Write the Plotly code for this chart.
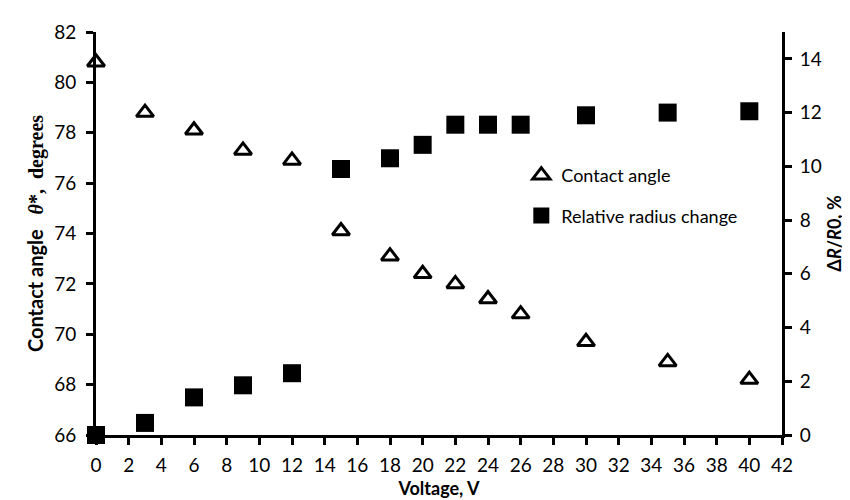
import plotly.graph_objects as go

voltage = [0, 3, 6, 9, 12, 15, 18, 20, 22, 24, 26, 30, 35, 40]
contact_angle = [80.8, 78.8, 78.1, 77.3, 76.9, 74.1, 73.1, 72.4, 72.0, 71.4, 70.8, 69.7, 68.9, 68.2]
radius_change = [0.0, 0.45, 1.4, 1.85, 2.3, 9.9, 10.3, 10.8, 11.55, 11.55, 11.55, 11.9, 12.0, 12.05]

FONT = "Lato"

fig = go.Figure()
fig.add_trace(go.Scatter(
    x=voltage, y=contact_angle, mode="markers", name="Contact angle",
    legendgroup="a",
    marker=dict(symbol="triangle-up-open", size=15, color="black", line=dict(width=3, color="black")),
    cliponaxis=False, yaxis="y"))
fig.add_trace(go.Scatter(
    x=voltage, y=radius_change, mode="markers", name="Relative radius change",
    legendgroup="b",
    marker=dict(symbol="square", size=18, color="black"),
    cliponaxis=False, yaxis="y2"))

axis_common = dict(showline=True, linewidth=3, linecolor="black", ticks="outside",
                   ticklen=7, tickwidth=3, tickcolor="black", showgrid=False, zeroline=False,
                   tickfont=dict(family=FONT, size=19, color="black"), layer="below traces")

fig.update_layout(
    width=850, height=500,
    margin=dict(l=88, r=76, t=20, b=73),
    plot_bgcolor="white", paper_bgcolor="white",
    font=dict(family=FONT, color="black"),
    xaxis=dict(range=[0, 42], dtick=2, tick0=0, ticklabelstandoff=4,
               title=dict(text="<b>Voltage, V</b>", font=dict(family=FONT, size=18), standoff=8),
               **axis_common),
    yaxis=dict(range=[66, 82], dtick=2, tick0=66, ticklabelstandoff=6,
               title=dict(text='<b>Contact angle  </b> <span style="font-family:Liberation Serif"><b><i>θ</i>*,  degrees</b></span>',
                          font=dict(family=FONT, size=20), standoff=6),
               **axis_common),
    yaxis2=dict(range=[0, 15], dtick=2, tick0=0, overlaying="y", side="right", ticklabelstandoff=4,
                title=dict(text="<b>Δ<i>R</i>/<i>R</i>0, %</b>", font=dict(family=FONT, size=18), standoff=8),
                **axis_common),
    legend=dict(x=0.62, y=0.69, xanchor="left", yanchor="top", bgcolor="rgba(0,0,0,0)",
                font=dict(family=FONT, size=18, color="black"), tracegroupgap=14,
                itemsizing="trace"),
    showlegend=True,
)

fig.write_html("out.html")
